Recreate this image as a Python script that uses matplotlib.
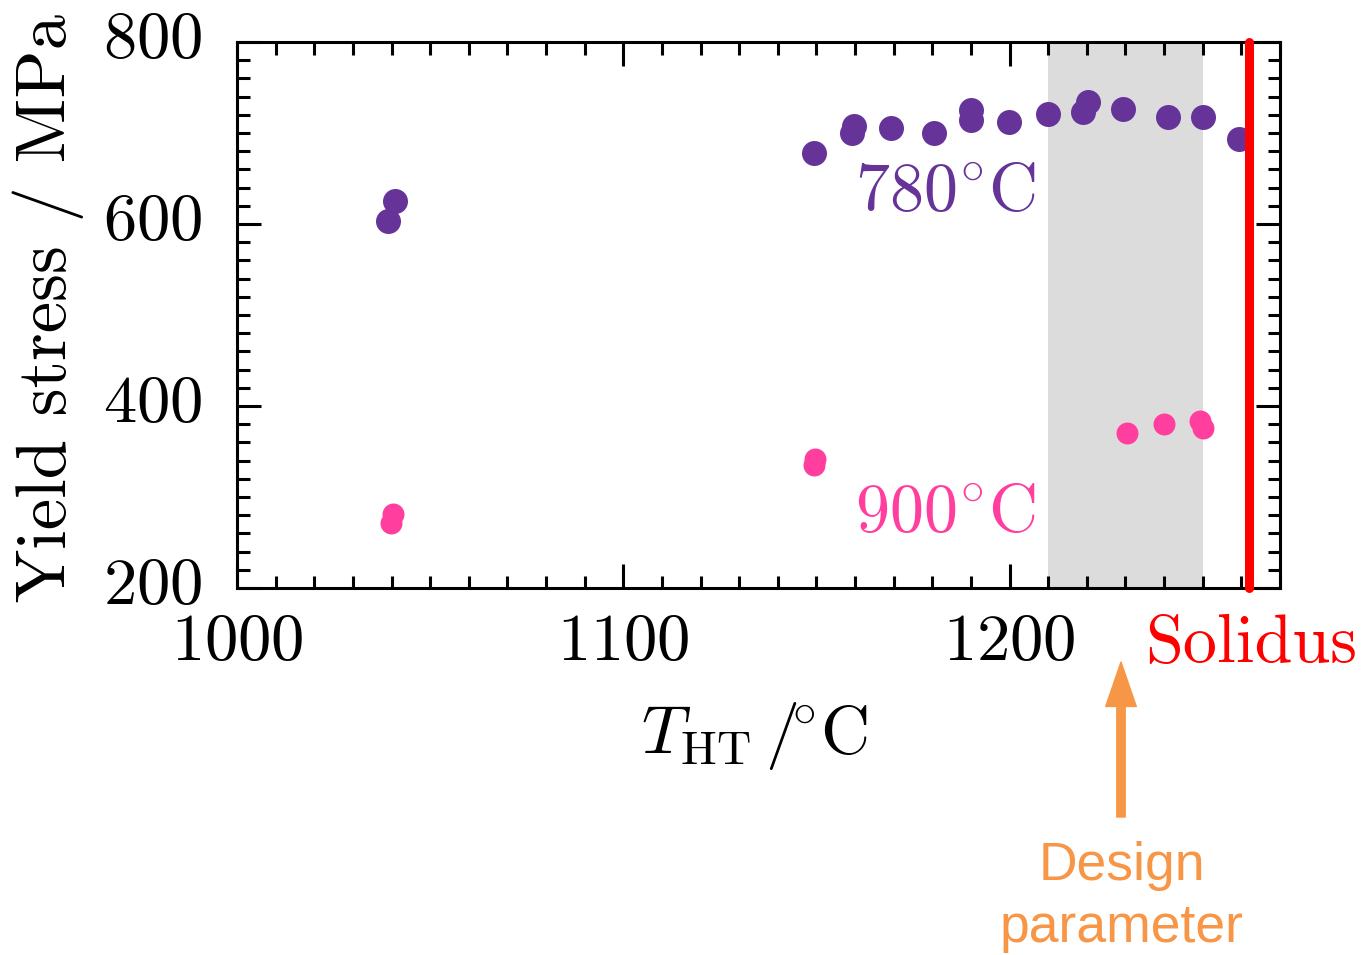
import matplotlib
matplotlib.use('Agg')
import matplotlib.pyplot as plt
import matplotlib.transforms as mtransforms
from matplotlib.patches import FancyArrowPatch
from matplotlib.ticker import MultipleLocator

plt.rcParams['font.family'] = 'serif'
plt.rcParams['font.serif'] = ['cmr10']
plt.rcParams['mathtext.fontset'] = 'cm'
plt.rcParams['axes.formatter.use_mathtext'] = True
plt.rcParams['axes.unicode_minus'] = False

# ---- data ----
x780 = [1039.2, 1040.8, 1149.3, 1159.2, 1159.6, 1169.2, 1180.5, 1190.0, 1190.0,
        1199.9, 1209.9, 1219.1, 1220.3, 1229.3, 1241.0, 1250.1, 1259.5]
y780 = [603.7, 625.1, 678.5, 699.6, 707.7, 705.0, 699.5, 714.8, 725.8,
        712.2, 720.7, 722.6, 733.6, 725.9, 717.1, 717.1, 693.2]
x900 = [1039.9, 1040.4, 1149.3, 1149.6, 1230.5, 1240.1, 1249.2, 1250.0]
y900 = [271.7, 281.6, 335.5, 342.0, 370.2, 380.7, 383.4, 375.7]
solidus_T = 1262
design_window = (1210, 1250)
xticks = [1000, 1100, 1200]
yticks = [200, 400, 600, 800]

PURPLE = '#663399'
PINK = '#ff3e9e'
RED = '#ff0000'
ORANGE = '#f79646'

fig = plt.figure(figsize=(13.63, 9.55), dpi=100)
ax = fig.add_axes([237/1363, 1-588/955, (1280-237)/1363, (588-42)/955])

ax.axvspan(*design_window, color='#dcdcdc', lw=0, zorder=0)
ax.scatter(x780, y780, s=324, color=PURPLE, lw=0, zorder=3)
ax.scatter(x900, y900, s=250, color=PINK, lw=0, zorder=3)
ax.axvline(solidus_T, color=RED, lw=6.5, solid_capstyle='round', clip_on=False, zorder=4)

ax.set_xlim(1000, 1270)
ax.set_ylim(200, 800)
ax.set_xticks(xticks)
ax.set_yticks(yticks)
ax.xaxis.set_minor_locator(MultipleLocator(10))
ax.yaxis.set_minor_locator(MultipleLocator(20))
for s in ax.spines.values():
    s.set_linewidth(2.2)
ax.tick_params(which='both', direction='in', top=True, right=True, width=2.2, labelsize=48)
ax.tick_params(which='major', length=17)
ax.tick_params(which='minor', length=9)
ax.tick_params(axis='x', pad=18)
ax.tick_params(axis='y', pad=25)
offset = mtransforms.ScaledTranslation(0, 7/100, fig.dpi_scale_trans)
for lbl in ax.get_yticklabels():
    lbl.set_transform(lbl.get_transform() + offset)

ax.set_xlabel(r'$T_{\mathrm{HT}}\,/\!^{\circ}\mathrm{C}$', fontsize=49)
ax.xaxis.set_label_coords((754-237)/1043, (588-700)/546)
ax.set_ylabel('Yield stress / MPa', fontsize=51)
ax.yaxis.set_label_coords(-0.147, 0.513)

ax.text(1160, 615, r'$780^{\circ}\mathrm{C}$', color=PURPLE, fontsize=49,
        ha='left', va='baseline')
ax.text(1160, 263, r'$900^{\circ}\mathrm{C}$', color=PINK, fontsize=49,
        ha='left', va='baseline')

fig.text(1145/1363, 1-662/955, 'Solidus', color=RED, fontsize=49,
         ha='left', va='baseline')

fig.text(1122/1363, 1-880/955, 'Design', color=ORANGE, fontsize=38.5,
         family='Liberation Sans', ha='center', va='baseline')
fig.text(1122/1363, 1-942/955, 'parameter', color=ORANGE, fontsize=38.5,
         family='Liberation Sans', ha='center', va='baseline')

arrow = FancyArrowPatch(posA=(1121/1363, 1-817/955), posB=(1121/1363, 1-662/955),
                        transform=fig.transFigure,
                        arrowstyle='simple,head_length=32,head_width=22,tail_width=6',
                        mutation_scale=1, color=ORANGE, shrinkA=0, shrinkB=0)
fig.add_artist(arrow)

fig.savefig('out.png', dpi=100)
